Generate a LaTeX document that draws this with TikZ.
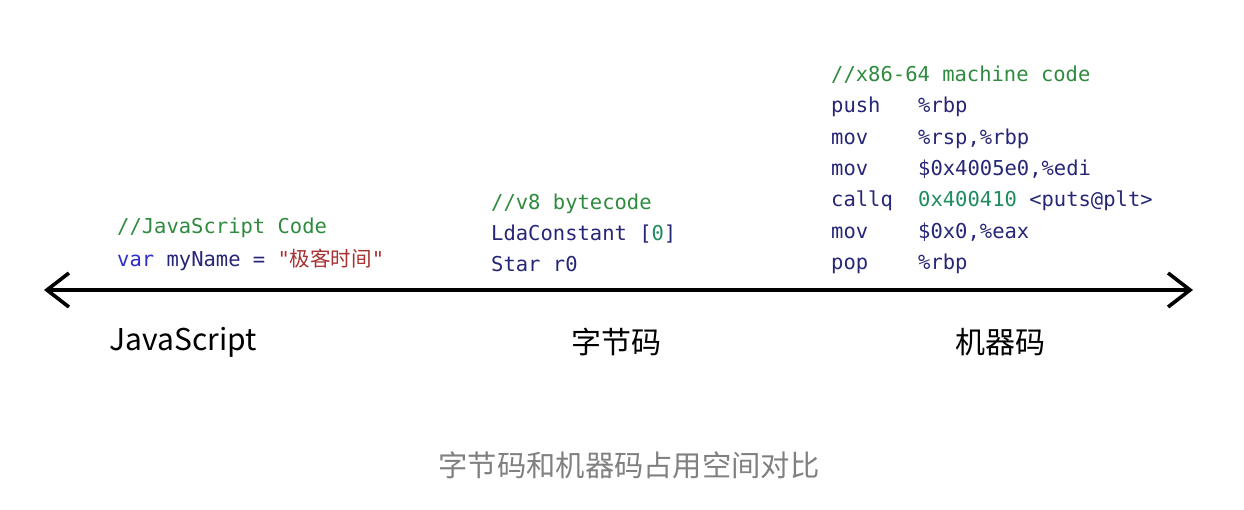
\documentclass[tikz,border=0pt]{standalone}
\usepackage{fontspec}
\setmonofont{DejaVu Sans Mono}
\newfontfamily\cjk{Noto Sans CJK SC}
\usepackage{xcolor}
\usetikzlibrary{arrows.meta}
\definecolor{cmtgreen}{RGB}{46, 139, 62}
\definecolor{numgreen}{RGB}{30, 140, 95}
\definecolor{insnavy}{RGB}{38, 38, 118}
\definecolor{kwblue}{RGB}{45, 45, 200}
\definecolor{strred}{RGB}{168, 48, 48}
\definecolor{capgray}{RGB}{128, 128, 128}
\newcommand\codefont{\ttfamily\fontsize{20.5}{24}\selectfont}

\begin{document}
\begin{tikzpicture}[
  x=1pt, y=-1pt,
  code/.style={anchor=base west, inner sep=0pt, font=\codefont, text=insnavy},
  cmt/.style={code, text=cmtgreen},
  stage/.style={inner sep=0pt, font=\cjk\fontsize{30}{34}\selectfont, text=black},
  caption/.style={inner sep=0pt, font=\cjk\fontsize{29.3}{34}\selectfont, text=capgray},
  axis/.style={line width=3.6pt, line cap=round,
    {Straight Barb[length=22pt, width=34pt, line width=3.6pt]}-{Straight Barb[length=22pt, width=34pt, line width=3.6pt]}},
]
\useasboundingbox (0,0) rectangle (1244,509);

\def\colJ{117}
\def\colB{491}
\def\colM{831}
\def\colO{918}

% JavaScript source
\node[cmt]  (jsC) at (\colJ, 233) {//JavaScript Code};
\node[code] (jsA) at (\colJ, 266) {\textcolor{kwblue}{var} myName = \textcolor{strred}{"{\cjk 极客时间}"}};

% V8 bytecode
\node[cmt]  (bcC) at (\colB, 209) {//v8 bytecode};
\node[code] (bcA) at (\colB, 240) {LdaConstant [\textcolor{numgreen}{0}]};
\node[code] (bcB) at (\colB, 271) {Star r0};

% x86-64 machine code
\node[cmt]  (mcC)  at (\colM, 81)  {//x86-64 machine code};
\node[code] (mcA)  at (\colM, 112) {push};
\node[code] (mcAo) at (\colO, 112) {\%rbp};
\node[code] (mcB)  at (\colM, 144) {mov};
\node[code] (mcBo) at (\colO, 144) {\%rsp,\%rbp};
\node[code] (mcD)  at (\colM, 175) {mov};
\node[code] (mcDo) at (\colO, 175) {\$0x4005e0,\%edi};
\node[code] (mcE)  at (\colM, 206) {callq};
\node[code] (mcEo) at (\colO, 206) {\textcolor{numgreen}{0x400410} <puts@plt>};
\node[code] (mcF)  at (\colM, 238) {mov};
\node[code] (mcFo) at (\colO, 238) {\$0x0,\%eax};
\node[code] (mcG)  at (\colM, 269) {pop};
\node[code] (mcGo) at (\colO, 269) {\%rbp};

% the axis
\coordinate (axL) at (44, 290);
\coordinate (axR) at (1193, 290);
\draw[axis] (axL) -- (axR);

% stage labels
\node[stage] (jsL) at (183, 342) {JavaScript};
\node[stage] (bcL) at (616, 342) {字节码};
\node[stage] (mcL) at (1000, 342) {机器码};

% caption
\node[caption] (cap) at (629, 465) {字节码和机器码占用空间对比};

\end{tikzpicture}
\end{document}
